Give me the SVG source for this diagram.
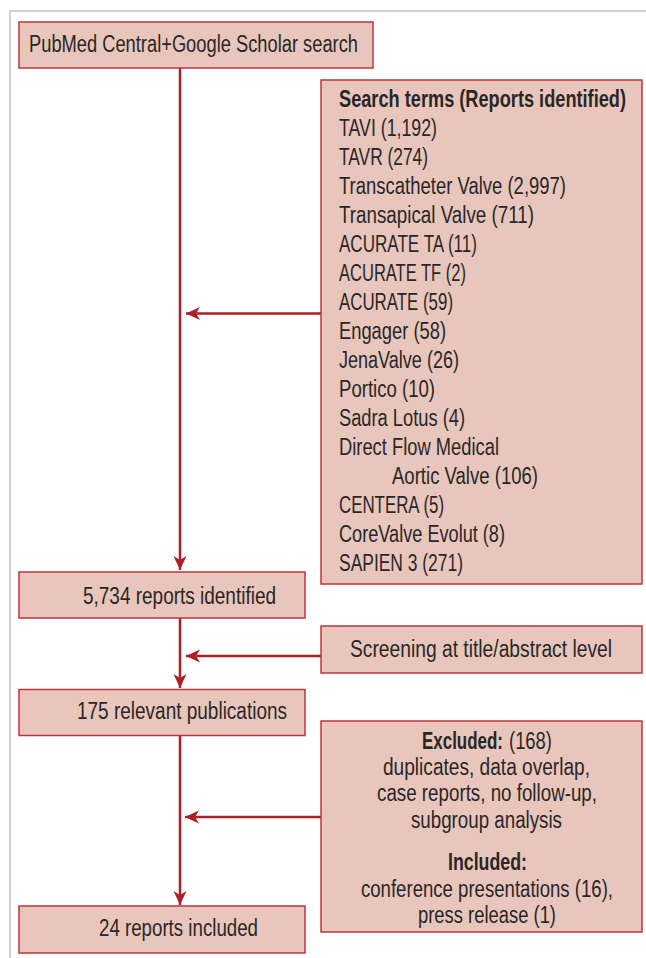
<svg xmlns="http://www.w3.org/2000/svg" width="646" height="958" viewBox="0 0 646 958">
<style>
.box{fill:#e8c6bc;stroke:#c1353c;stroke-width:1.5}
.t{font-family:"Liberation Sans Narrow","Liberation Sans",Arial,sans-serif;font-size:23.5px;fill:#2a2627}
.b{font-weight:bold}
.ln{stroke:#ad1f27;stroke-width:2.5;fill:none}
.frame{stroke:#c4c4c4;stroke-width:1.5;fill:none}
</style>
<defs>
<marker id="ah" markerUnits="userSpaceOnUse" markerWidth="16" markerHeight="14" viewBox="-15 -7 16 14" refX="0" refY="0" orient="auto">
<path d="M0,0 L-14,-6.5 L-10,0 L-14,6.5 Z" fill="#ad1f27"/>
</marker>
</defs>
<path class="frame" d="M10,958 V11 H646"/>
<g id="connectors">
<line class="ln" x1="180" y1="68" x2="180" y2="570" marker-end="url(#ah)"/>
<line class="ln" x1="180" y1="618" x2="180" y2="688" marker-end="url(#ah)"/>
<line class="ln" x1="180" y1="736" x2="180" y2="905" marker-end="url(#ah)"/>
<line class="ln" x1="321" y1="313.5" x2="186" y2="313.5" marker-end="url(#ah)"/>
<line class="ln" x1="321" y1="656" x2="186" y2="656" marker-end="url(#ah)"/>
<line class="ln" x1="321" y1="817" x2="185" y2="817" marker-end="url(#ah)"/>
</g>
<g id="search">
<rect class="box" x="19" y="22" width="354" height="46"/>
<text class="t" x="29" y="52" textLength="329" lengthAdjust="spacingAndGlyphs">PubMed Central+Google Scholar search</text>
</g>
<g id="terms">
<rect class="box" x="321" y="80" width="321" height="504"/>
<text class="t b" x="339" y="107" textLength="287" lengthAdjust="spacingAndGlyphs">Search terms (Reports identified)</text>
<text class="t" x="339" y="136" textLength="98" lengthAdjust="spacingAndGlyphs">TAVI (1,192)</text>
<text class="t" x="339" y="165" textLength="89" lengthAdjust="spacingAndGlyphs">TAVR (274)</text>
<text class="t" x="339" y="194" textLength="227" lengthAdjust="spacingAndGlyphs">Transcatheter Valve (2,997)</text>
<text class="t" x="339" y="223" textLength="195" lengthAdjust="spacingAndGlyphs">Transapical Valve (711)</text>
<text class="t" x="339" y="252" textLength="138" lengthAdjust="spacingAndGlyphs">ACURATE TA (11)</text>
<text class="t" x="339" y="281" textLength="127" lengthAdjust="spacingAndGlyphs">ACURATE TF (2)</text>
<text class="t" x="339" y="310" textLength="114" lengthAdjust="spacingAndGlyphs">ACURATE (59)</text>
<text class="t" x="339" y="339" textLength="107" lengthAdjust="spacingAndGlyphs">Engager (58)</text>
<text class="t" x="339" y="368" textLength="120" lengthAdjust="spacingAndGlyphs">JenaValve (26)</text>
<text class="t" x="339" y="397" textLength="96" lengthAdjust="spacingAndGlyphs">Portico (10)</text>
<text class="t" x="339" y="426" textLength="126" lengthAdjust="spacingAndGlyphs">Sadra Lotus (4)</text>
<text class="t" x="339" y="455" textLength="160" lengthAdjust="spacingAndGlyphs">Direct Flow Medical</text>
<text class="t" x="392" y="484" textLength="146" lengthAdjust="spacingAndGlyphs">Aortic Valve (106)</text>
<text class="t" x="339" y="513" textLength="105" lengthAdjust="spacingAndGlyphs">CENTERA (5)</text>
<text class="t" x="339" y="542" textLength="166" lengthAdjust="spacingAndGlyphs">CoreValve Evolut (8)</text>
<text class="t" x="339" y="571" textLength="124" lengthAdjust="spacingAndGlyphs">SAPIEN 3 (271)</text>
</g>
<g id="identified">
<rect class="box" x="19" y="572" width="286" height="46"/>
<text class="t" x="83" y="604" textLength="193" lengthAdjust="spacingAndGlyphs">5,734 reports identified</text>
</g>
<g id="screening">
<rect class="box" x="321" y="626" width="321" height="47"/>
<text class="t" x="350" y="657" textLength="262" lengthAdjust="spacingAndGlyphs">Screening at title/abstract level</text>
</g>
<g id="relevant">
<rect class="box" x="19" y="689.5" width="286" height="46"/>
<text class="t" x="77" y="719" textLength="210" lengthAdjust="spacingAndGlyphs">175 relevant publications</text>
</g>
<g id="excluded">
<rect class="box" x="321" y="721" width="321" height="211"/>
<text class="t b" x="422" y="749" textLength="81" lengthAdjust="spacingAndGlyphs">Excluded:</text>
<text class="t" x="509" y="749" textLength="43" lengthAdjust="spacingAndGlyphs">(168)</text>
<text class="t" x="383" y="775" textLength="207" lengthAdjust="spacingAndGlyphs">duplicates, data overlap,</text>
<text class="t" x="377" y="801" textLength="220" lengthAdjust="spacingAndGlyphs">case reports, no follow-up,</text>
<text class="t" x="411" y="827.5" textLength="151" lengthAdjust="spacingAndGlyphs">subgroup analysis</text>
<text class="t b" x="448" y="870" textLength="79" lengthAdjust="spacingAndGlyphs">Included:</text>
<text class="t" x="361" y="896.5" textLength="252" lengthAdjust="spacingAndGlyphs">conference presentations (16),</text>
<text class="t" x="418" y="922.5" textLength="138" lengthAdjust="spacingAndGlyphs">press release (1)</text>
</g>
<g id="included">
<rect class="box" x="19" y="906" width="286" height="47"/>
<text class="t" x="99" y="936" textLength="159" lengthAdjust="spacingAndGlyphs">24 reports included</text>
</g>
</svg>
